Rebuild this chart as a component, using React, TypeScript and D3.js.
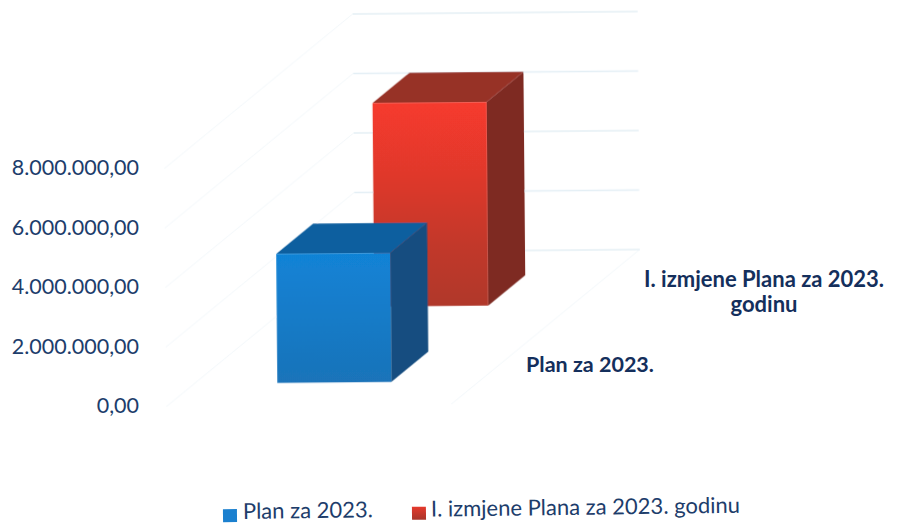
import React from "react";
import * as d3 from "d3";

const categories = ["Plan za 2023.", "I. izmjene Plana za 2023. godinu"];
const values = [4340000, 6840000];
const tickValues = [0, 2000000, 4000000, 6000000, 8000000];
const tickLabels = ["0,00", "2.000.000,00", "4.000.000,00", "6.000.000,00", "8.000.000,00"];
const categoryLabelLines = [["Plan za 2023."], ["I. izmjene Plana za 2023.", "godinu"]];

const FONT = "Lato, 'Open Sans', sans-serif";
const NAVY = "#1d3d6b";
const NAVY_BOLD = "#142f5c";
const GRID = "#e4eff5";

// oblique projection parameters
const originX = 165;
const originY = 405;
const wallHeight = 238;
const floorDepth = 153;
const floorWidth = 285;
const shear = 1.24;

const h = d3.scaleLinear().domain([0, 8000000]).range([0, wallHeight]);
const depth = d3.scalePoint<string>().domain(categories).range([0, 151]).padding(0.5);
const project = (u: number, d: number, v: number): [number, number] => [
  originX + u + shear * d,
  originY - d - h(v),
];
const poly = (pts: [number, number][]) => d3.line()(pts)! + "Z";

const barU = [83, 87];
const barW = 114;
const barHalfDepth = 15;

const palettes = [
  { front: "url(#blueFront)", side: "#174e80", top: "#0f5f9f" },
  { front: "url(#redFront)", side: "#7e2b24", top: "#973027" },
];

function Bar({ i }: { i: number }) {
  const u0 = barU[i];
  const u1 = u0 + barW;
  const c = depth(categories[i])!;
  const d0 = c - barHalfDepth;
  const d1 = c + barHalfDepth;
  const v = values[i];
  const p = palettes[i];
  return (
    <g>
      <path d={poly([project(u1, d0, 0), project(u1, d1, 0), project(u1, d1, v), project(u1, d0, v)])} fill={p.side} />
      <path d={poly([project(u0, d0, v), project(u1, d0, v), project(u1, d1, v), project(u0, d1, v)])} fill={p.top} />
      <path d={poly([project(u0, d0, 0), project(u1, d0, 0), project(u1, d0, v), project(u0, d0, v)])} fill={p.front} />
    </g>
  );
}

export default function App() {
  return (
    <svg
      width={901}
      height={524}
      viewBox="0 0 901 524"
      style={{ position: "absolute", left: 0, top: 0, background: "#ffffff", fontFamily: FONT }}
    >
      <defs>
        <linearGradient id="redFront" x1="0" y1="0" x2="0" y2="1">
          <stop offset="0" stopColor="#f63a2d" />
          <stop offset="0.35" stopColor="#e0392c" />
          <stop offset="0.7" stopColor="#c2382c" />
          <stop offset="1" stopColor="#b0382c" />
        </linearGradient>
        <linearGradient id="blueFront" x1="0" y1="0" x2="0" y2="1">
          <stop offset="0" stopColor="#1183d6" />
          <stop offset="1" stopColor="#1a73b9" />
        </linearGradient>
        <linearGradient id="redKey" x1="0" y1="0" x2="0" y2="1">
          <stop offset="0" stopColor="#e5392c" />
          <stop offset="1" stopColor="#a8352a" />
        </linearGradient>
        <filter id="scan" x="-5%" y="-5%" width="110%" height="110%">
          <feGaussianBlur stdDeviation="0.5" />
        </filter>
      </defs>

      <g transform="rotate(-0.5 355 252)" filter="url(#scan)">
        {tickValues.map((t) => {
          const a = project(0, 0, t);
          const b = project(0, floorDepth, t);
          const c = project(floorWidth, floorDepth, t);
          return (
            <g key={t} fill="none">
              <line x1={a[0]} y1={a[1]} x2={b[0]} y2={b[1]} stroke={GRID} strokeWidth={0.8} strokeOpacity={0.6} />
              <line x1={b[0]} y1={b[1]} x2={c[0]} y2={c[1]} stroke={GRID} strokeWidth={1.3} />
            </g>
          );
        })}
        {(() => {
          const a = project(floorWidth, 0, 0);
          const b = project(floorWidth, floorDepth, 0);
          return <line x1={a[0]} y1={a[1]} x2={b[0]} y2={b[1]} stroke={GRID} strokeWidth={0.8} strokeOpacity={0.6} />;
        })()}
        <Bar i={1} />
        <Bar i={0} />
      </g>

      {tickValues.map((t, i) => (
        <text key={t} x={139} y={originY - h(t) + 8} textAnchor="end" fontSize={21.5} fill={NAVY}>
          {tickLabels[i]}
        </text>
      ))}

      <text x={590} y={372} textAnchor="middle" fontSize={21.5} fontWeight={700} fill={NAVY_BOLD}>
        {categoryLabelLines[0][0]}
      </text>
      <text textAnchor="middle" fontSize={22} fontWeight={700} fill={NAVY_BOLD}>
        <tspan x={764} y={287}>{categoryLabelLines[1][0]}</tspan>
        <tspan x={764} y={312}>{categoryLabelLines[1][1]}</tspan>
      </text>

      <g transform="rotate(-0.7 480 515)">
        <rect x={223} y={506} width={14} height={13} fill="#1b80cf" />
        <text x={243} y={516} fontSize={22} fill={NAVY}>{categories[0]}</text>
        <rect x={412} y={506} width={14} height={13} fill="url(#redKey)" />
        <text x={431} y={516} fontSize={22} fill={NAVY}>{categories[1]}</text>
      </g>
    </svg>
  );
}
